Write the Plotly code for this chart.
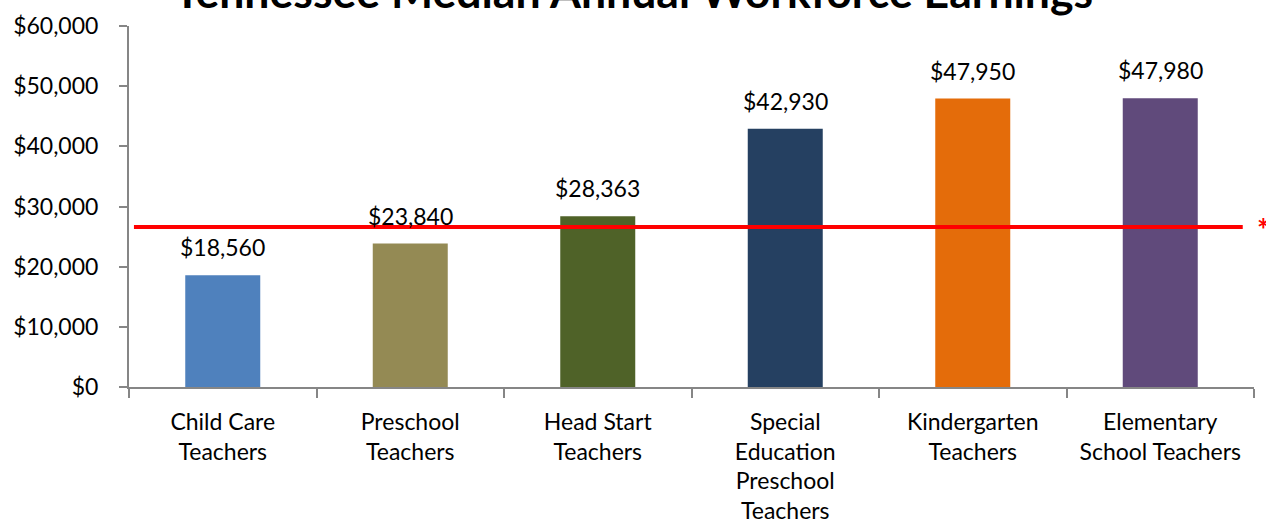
import plotly.graph_objects as go

categories = ["Child Care<br>Teachers", "Preschool<br>Teachers", "Head Start<br>Teachers",
              "Special<br>Education<br>Preschool<br>Teachers", "Kindergarten<br>Teachers",
              "Elementary<br>School Teachers"]
earnings = [18560, 23840, 28363, 42930, 47950, 47980]
value_labels = ["$18,560", "$23,840", "$28,363", "$42,930", "$47,950", "$47,980"]
bar_colors = ["#4F81BD", "#948A54", "#4F6228", "#254061", "#E46C0A", "#604A7B"]
reference_line = 26590
y_ticks = [0, 10000, 20000, 30000, 40000, 50000, 60000]
y_tick_labels = ["$0", "$10,000", "$20,000", "$30,000", "$40,000", "$50,000", "$60,000"]
title_text = "Tennessee Median Annual Workforce Earnings"

FONT = "Lato"
FS = 23

fig = go.Figure()
fig.add_trace(go.Bar(
    x=categories, y=earnings, marker=dict(color=bar_colors, line=dict(width=0)),
    width=0.4, hoverinfo="x+y",
))

for cat, val, lab in zip(categories, earnings, value_labels):
    fig.add_annotation(x=cat, y=val, text=lab, showarrow=False, xanchor="center",
                       yanchor="bottom", yshift=12,
                       font=dict(family=FONT, size=FS, color="#000000"))

fig.add_shape(type="line", xref="paper", yref="y", x0=0.0044, x1=0.990,
              y0=reference_line, y1=reference_line,
              line=dict(color="#FF0000", width=4))
fig.add_annotation(xref="paper", yref="y", x=1.001, y=reference_line, text="<b>*</b>",
                   showarrow=False, xanchor="left", yanchor="middle", yshift=-2,
                   font=dict(family=FONT, size=30, color="#FF0000"))

# title as an annotation so it can sit partly above the page, as in the reference
fig.add_annotation(xref="paper", yref="paper", x=(633.5 - 129) / 1125, y=1.097,
                   text="<b>" + title_text + "</b>", showarrow=False,
                   xanchor="center", yanchor="middle",
                   font=dict(family=FONT, size=44.6, color="#000000"))

fig.update_layout(
    width=1266, height=529,
    margin=dict(l=129, r=12, t=26, b=142, autoexpand=False),
    paper_bgcolor="white", plot_bgcolor="white",
    showlegend=False,
    font=dict(family=FONT, size=FS, color="#000000"),
    xaxis=dict(showline=True, linecolor="#868686", linewidth=2,
               ticks="outside", tickson="boundaries", ticklen=9, tickcolor="#868686", tickwidth=2,
               ticklabelstandoff=13,
               tickfont=dict(family=FONT, size=FS, color="#000000"),
               showgrid=False, zeroline=False, automargin=False),
    yaxis=dict(range=[0, 60000], tickvals=y_ticks, ticktext=y_tick_labels,
               showline=True, linecolor="#868686", linewidth=2,
               ticks="outside", ticklen=8, tickcolor="#868686", tickwidth=2,
               ticklabelstandoff=16,
               tickfont=dict(family=FONT, size=FS, color="#000000"),
               showgrid=False, zeroline=False, automargin=False),
    bargap=0.6,
)

fig.write_html("out.html", config={"displayModeBar": False},
               post_script="document.body.style.margin='0';")
